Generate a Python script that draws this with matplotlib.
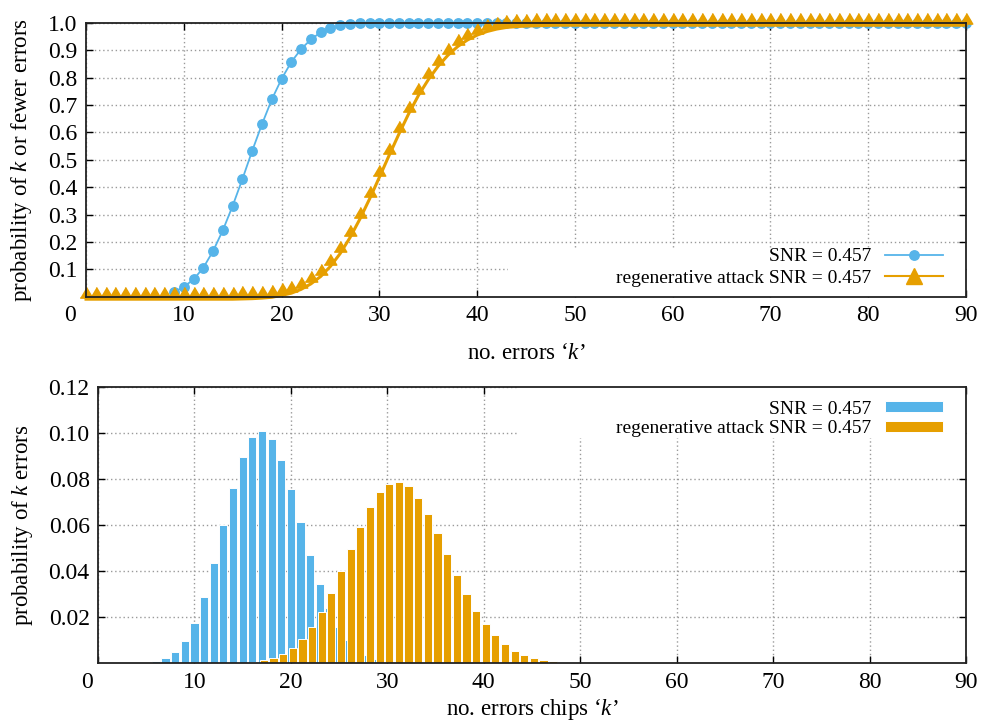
import numpy as np
import matplotlib
matplotlib.use("Agg")
import matplotlib.pyplot as plt
from matplotlib import transforms
from matplotlib.patches import Rectangle

plt.rcParams['font.family'] = ['Liberation Serif', 'DejaVu Serif']
plt.rcParams['mathtext.fontset'] = 'custom'
plt.rcParams['mathtext.rm'] = 'Liberation Serif'
plt.rcParams['mathtext.it'] = 'Liberation Serif:italic'

BLUE = '#56B4E9'
ORANGE = '#E69F00'

# --- data: cumulative probability (top panel)
k_cdf_snr = np.arange(9, 91)
cdf_snr = ([0.017, 0.036, 0.063, 0.106, 0.167,
            0.243, 0.332, 0.430, 0.533, 0.630, 0.720, 0.795, 0.857, 0.904,
            0.939, 0.965, 0.980, 0.990, 0.995, 0.998, 0.999] +
           [1.0] * 61)
k_cdf_regen = np.arange(0, 91)
cdf_regen = ([0.0] * 16 +
             [0.001, 0.002, 0.004, 0.007, 0.014, 0.022, 0.036, 0.056, 0.083,
              0.120, 0.167, 0.225, 0.292, 0.366, 0.445, 0.525, 0.603, 0.677,
              0.744, 0.801, 0.850, 0.890, 0.922, 0.946, 0.964, 0.977, 0.986,
              0.992, 0.995, 0.997, 0.998, 0.999] +
             [1.0] * 43)

# --- data: probability of exactly k errors (bottom panel)
k_pmf_snr = np.arange(5, 32)
pmf_snr = [0.0003, 0.0010, 0.0023, 0.0050, 0.0099, 0.0177, 0.0290, 0.0436,
           0.0600, 0.0762, 0.0897, 0.0984, 0.1012, 0.0975, 0.0884, 0.0757,
           0.0613, 0.0472, 0.0344, 0.0239, 0.0159, 0.0101, 0.0061, 0.0036,
           0.0020, 0.0010, 0.0005]
k_pmf_regen = np.arange(14, 51)
pmf_regen = [0.0001, 0.0003, 0.0006, 0.0013, 0.0023, 0.0040, 0.0066, 0.0104,
             0.0157, 0.0223, 0.0304, 0.0400, 0.0499, 0.0594, 0.0678, 0.0743,
             0.0780, 0.0790, 0.0770, 0.0720, 0.0649, 0.0565, 0.0474, 0.0386,
             0.0301, 0.0229, 0.0171, 0.0123, 0.0084, 0.0055, 0.0036, 0.0023,
             0.0014, 0.0010, 0.0006, 0.0003, 0.0002]

label_snr = 'SNR = 0.457'
label_regen = 'regenerative attack SNR = 0.457'
xticks = np.arange(0, 91, 10)
yticks_top = np.round(np.arange(0.1, 1.01, 0.1), 1)
yticks_bot = np.round(np.arange(0.02, 0.121, 0.02), 2)

fig = plt.figure(figsize=(9.81, 7.24), dpi=100)
ax1 = fig.add_axes([0.0877, 0.5902, 0.8970, 0.3784])
ax2 = fig.add_axes([0.0999, 0.0838, 0.8848, 0.3813])

grid_kw = dict(color='#9a9a9a', linestyle=(0, (1, 2)), linewidth=1.0)


def style_axes(ax):
    ax.set_axisbelow(True)
    ax.grid(True, **grid_kw)
    ax.tick_params(direction='in', top=True, right=True, length=5, width=1,
                   labelsize=17, pad=6)
    for s in ax.spines.values():
        s.set_linewidth(1.3)
        s.set_color('#222222')


# top panel: cumulative
style_axes(ax1)
line_off = transforms.offset_copy(ax1.transData, fig=fig, x=0, y=-2.5, units='dots')
tri = [(-1, -0.1), (1, -0.1), (0, 1.6)]
ax1.plot(k_cdf_snr, cdf_snr, color=BLUE, lw=1.3, marker='o', ms=6.8,
         clip_on=False, zorder=2)
ax1.plot(k_cdf_regen, cdf_regen, color=ORANGE, lw=2.2, clip_on=False,
         zorder=2.1, transform=line_off)
ax1.plot(k_cdf_regen, cdf_regen, color=ORANGE, lw=0, marker=tri, ms=14.5,
         clip_on=False, zorder=2.2)
h_regen, = ax1.plot([], [], color=ORANGE, lw=1.5, marker='^', ms=11)
h_snr, = ax1.plot([], [], color=BLUE, lw=1.3, marker='o', ms=6.8)
ax1.set_xlim(0, 90)
ax1.set_ylim(0, 1.0)
ax1.set_xticks(xticks)
ax1.set_yticks(yticks_top)
ax1.set_yticklabels([f'{v:.1f}' for v in yticks_top])
ax1.set_xlabel('no. errors ‘$k$’', fontsize=16.5, labelpad=12)
ax1.set_ylabel('probability of $k$ or fewer errors', fontsize=16.5, labelpad=10)
ax1.add_patch(Rectangle((0.4795, 0.0), 0.5205, 0.178, transform=ax1.transAxes,
                        facecolor='white', edgecolor='none', zorder=1.5))
ax1.legend([h_snr, h_regen], [label_snr, label_regen], loc='lower right',
           bbox_to_anchor=(0.974, 0.036), frameon=False, markerfirst=False,
           fontsize=14, handlelength=3.0, handletextpad=0.7, labelspacing=0.2,
           borderpad=0, borderaxespad=0)

# bottom panel: probability mass
style_axes(ax2)
regen_shift = 0.2
ax2.bar(k_pmf_snr, pmf_snr, width=0.85, color=BLUE, edgecolor='white',
        linewidth=0.7, zorder=2, label=label_snr)
ax2.bar(k_pmf_regen + regen_shift, pmf_regen, width=0.85, color=ORANGE,
        edgecolor='white', linewidth=0.7, zorder=2.1, label=label_regen)
ax2.set_xlim(0, 90)
ax2.set_ylim(0, 0.12)
ax2.set_xticks(xticks)
ax2.set_yticks(yticks_bot)
ax2.set_yticklabels([f'{v:.2f}' for v in yticks_bot])
ax2.set_xlabel('no. errors chips ‘$k$’', fontsize=16.5, labelpad=3)
ax2.set_ylabel('probability of $k$ errors', fontsize=16.5, labelpad=10)
ax2.add_patch(Rectangle((0.485, 0.818), 0.515, 0.182, transform=ax2.transAxes,
                        facecolor='white', edgecolor='none', zorder=1.5))
ax2.legend(loc='upper right', bbox_to_anchor=(0.974, 0.952), frameon=False,
           markerfirst=False, fontsize=14, handlelength=3.0, handleheight=0.5,
           handletextpad=0.7, labelspacing=0.15, borderpad=0, borderaxespad=0)

# gnuplot-like placement of the "0" x tick label
for ax, dx in ((ax1, -16), (ax2, -11)):
    lab = ax.get_xticklabels()[0]
    lab.set_transform(lab.get_transform() +
                      transforms.ScaledTranslation(dx / 100, 0, fig.dpi_scale_trans))

fig.savefig('out.png', dpi=100)
